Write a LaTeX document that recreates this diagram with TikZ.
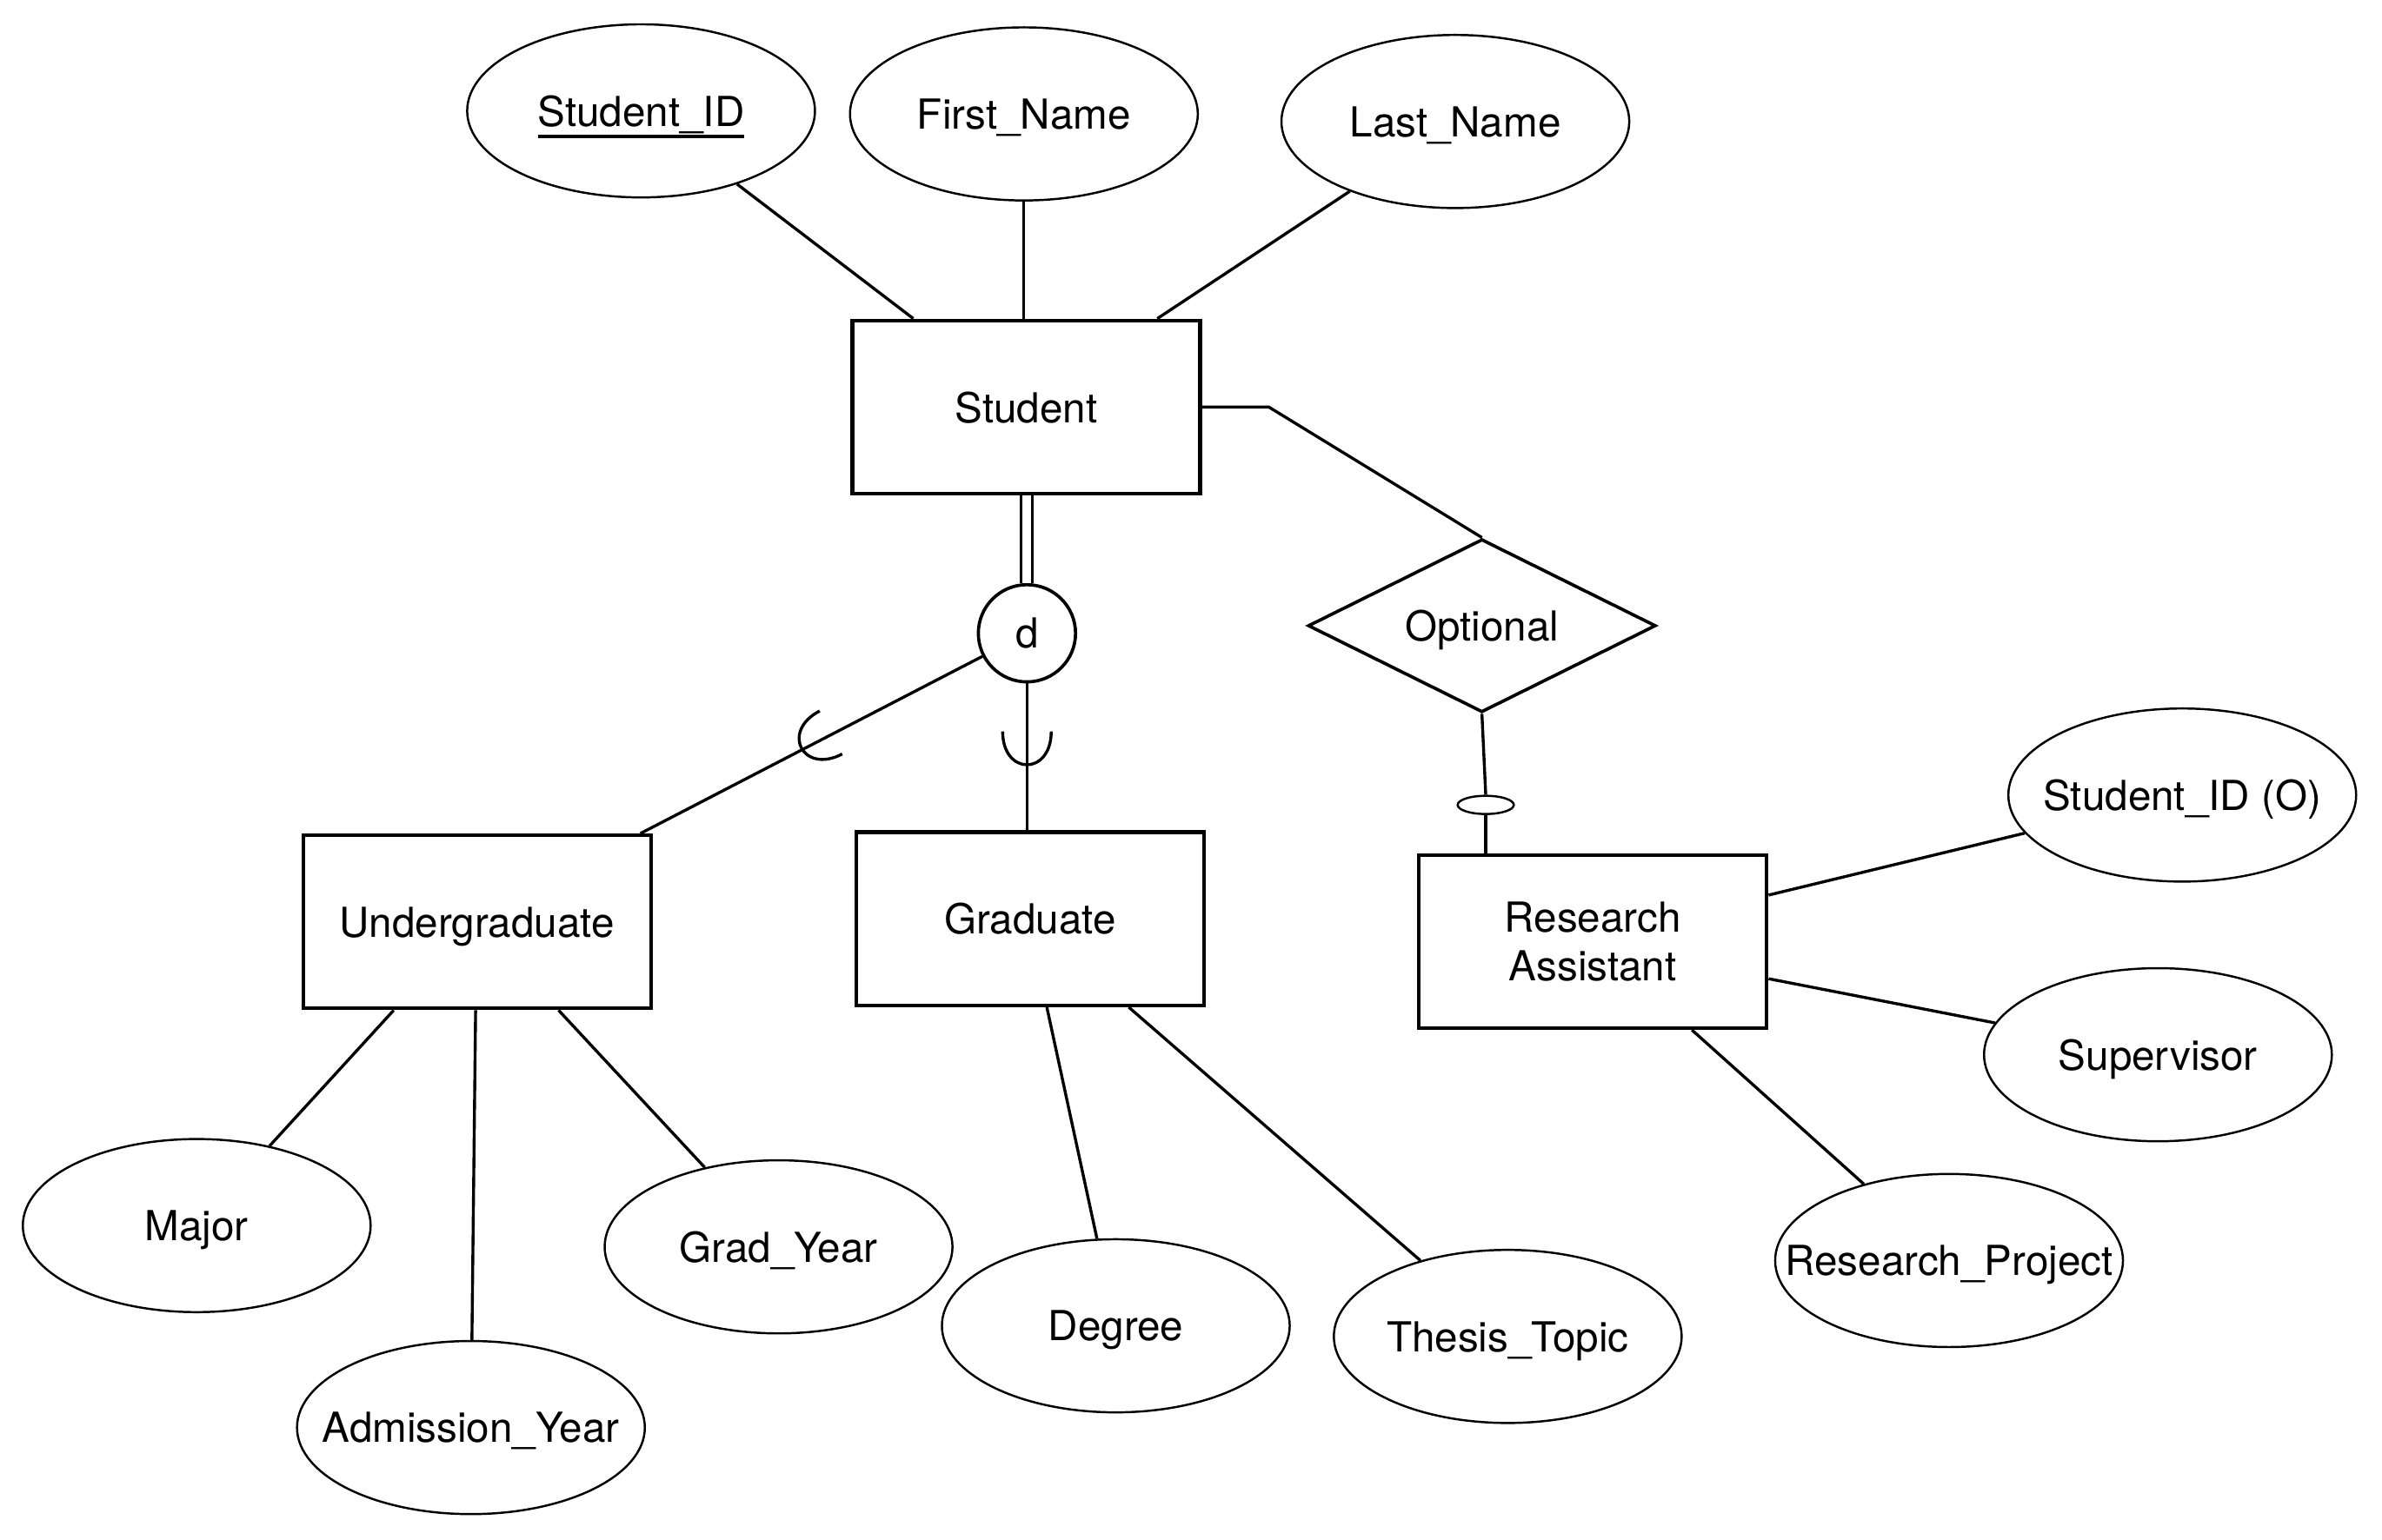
\documentclass[tikz,border=0pt]{standalone}
\usepackage{fontspec}
\setmainfont{TeX Gyre Heros}
\usetikzlibrary{shapes.geometric,calc}
\newcommand\thickul[1]{\setbox0\hbox{#1}\rlap{\copy0}\rule[-4.4pt]{\wd0}{1.3pt}}
\begin{document}
\begin{tikzpicture}[x=0.02cm,y=-0.02cm,
  every node/.style={font=\fontsize{15.5}{18.2}\selectfont},
  attr/.style={draw,ellipse,line width=0.8pt,minimum width=4.58cm,minimum height=2.28cm,inner sep=0pt,text depth=0pt},
  ent/.style={draw,rectangle,line width=1.4pt,minimum width=4.58cm,minimum height=2.28cm,inner sep=0pt,align=center},
  rel/.style={draw,diamond,line width=1.2pt,minimum width=4.58cm,minimum height=2.28cm,inner sep=0pt,text depth=0pt},
  disj/.style={draw,circle,line width=1.2pt,minimum size=1.28cm,inner sep=0pt},
  conn/.style={line width=1.1pt},
  subarc/.style={line width=1.1pt}
]
\useasboundingbox (0,0) rectangle (1568,1014);

% attributes of Student
\node[attr] (sid) at (422,73) {\makebox[0pt]{\thickul{Student\_ID}}};
\node[attr] (fn) at (674,75) {\makebox[0pt]{First\_Name}};
\node[attr] (ln) at (958,80) {\makebox[0pt]{Last\_Name}};

% entities
\node[ent,text depth=0pt] (student) at (675.5,268) {Student};
\node[ent,text depth=0pt] (ug) at (314,607) {Undergraduate};
\node[ent,text depth=0pt] (grad) at (678,605) {Graduate};
\node[ent] (ra) at (1048.5,620) {Research\\Assistant};

% disjoint circle and relationship
\node[disj] (d) at (676,417) {d};
\node[rel] (opt) at (975.5,412) {\makebox[0pt]{Optional}};
\node[draw,ellipse,line width=0.8pt,minimum width=0.74cm,minimum height=0.24cm,inner sep=0pt,fill=white] (oval) at (978,530) {};

% attributes of subclasses
\node[attr] (major) at (129.5,807) {\makebox[0pt]{Major}};
\node[attr] (adm) at (310,940) {\makebox[0pt]{Admission\_Year}};
\node[attr] (gy) at (512.5,821) {\makebox[0pt]{Grad\_Year}};
\node[attr] (deg) at (734.5,873) {\makebox[0pt]{Degree}};
\node[attr] (tt) at (992.5,880) {\makebox[0pt]{Thesis\_Topic}};
\node[attr] (sido) at (1436.5,523.5) {\makebox[0pt]{Student\_ID (O)}};
\node[attr] (sup) at (1420.5,694.5) {\makebox[0pt]{Supervisor}};
\node[attr] (rp) at (1283,830) {\makebox[0pt]{Research\_Project}};

% Student attribute connectors
\draw[conn] (sid) -- ($(student.north west)!0.179!(student.north east)$);
\draw[conn] (fn) -- (fn |- student.north);
\draw[conn] (ln) -- ($(student.north west)!0.873!(student.north east)$);

% Student to Optional
\draw[conn] (student.east) -- ++(44,0) -- (opt.north);
\draw[conn] (opt.south) -- (oval.north);
\draw[conn] (oval.south) -- (oval.south |- ra.north);

% Student to d (total participation)
\draw[line width=1.1pt,double,double distance=0.11cm] (d.north |- student.south) -- (d.north);

% d to subclasses
\coordinate (ugtop) at ($(ug.north west)!0.965!(ug.north east)$);
\draw[conn] (d) -- (ugtop);
\draw[conn] (d.south) -- (d.south |- grad.north);

% subset symbols
\coordinate (arcug) at (527.5,492.5);
\coordinate (arcgr) at (676,503.6);
\draw[subarc,shift={(arcug)},rotate=-62.4] (-16,-22) .. controls (-16,7.3) and (16,7.3) .. (16,-22);
\draw[subarc,shift={(arcgr)}] (-16,-22) .. controls (-16,7.3) and (16,7.3) .. (16,-22);

% Undergraduate attributes
\draw[conn] ($(ug.south west)!0.263!(ug.south east)$) -- (major);
\draw[conn] ($(ug.south west)!0.496!(ug.south east)$) -- (adm);
\draw[conn] ($(ug.south west)!0.732!(ug.south east)$) -- (gy);

% Graduate attributes
\draw[conn] ($(grad.south west)!0.548!(grad.south east)$) -- (deg);
\draw[conn] ($(grad.south west)!0.781!(grad.south east)$) -- (tt);

% Research Assistant attributes
\draw[conn] ($(ra.north east)!0.237!(ra.south east)$) -- (sido);
\draw[conn] ($(ra.north east)!0.71!(ra.south east)$) -- (sup);
\draw[conn] ($(ra.south west)!0.782!(ra.south east)$) -- (rp);
\end{tikzpicture}
\end{document}
